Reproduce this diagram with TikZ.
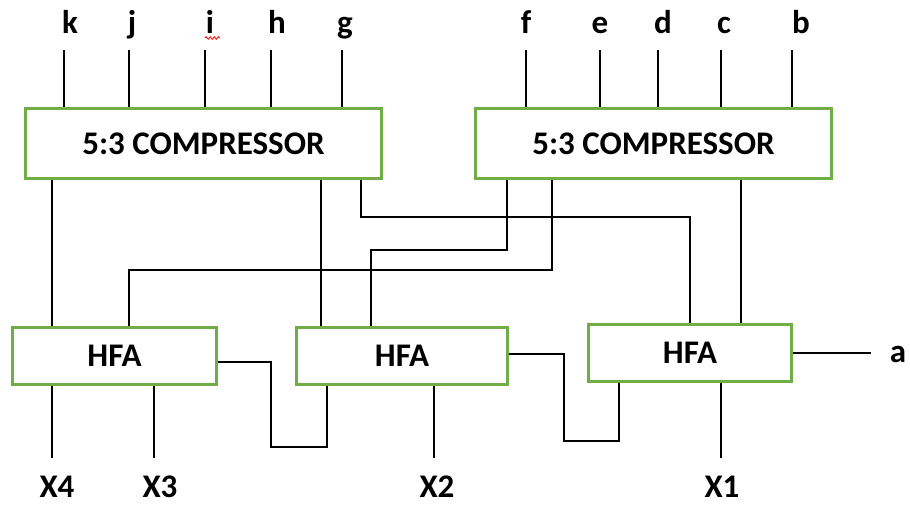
\documentclass[tikz,border=0pt]{standalone}
\usepackage{fontspec}
\setmainfont{Carlito}
\usetikzlibrary{decorations.pathmorphing}
\definecolor{boxgreen}{RGB}{112,173,71}
\begin{document}
\begin{tikzpicture}[x=1pt,y=-1pt,
  blk/.style={draw=boxgreen,line width=3pt,fill=white,inner sep=0pt,font=\fontsize{33}{36}\selectfont\bfseries},
  lbl/.style={font=\fontsize{33}{36}\selectfont\bfseries,inner sep=0pt,anchor=base},
  wire/.style={line width=2.8pt,line join=miter}]
\useasboundingbox (0,0) rectangle (910,504);
% blocks
\node[blk,minimum width=356pt,minimum height=70pt] (C1) at (203.5,143.5) {5:3 COMPRESSOR};
\node[blk,minimum width=356pt,minimum height=70pt] (C2) at (653.5,143.5) {5:3 COMPRESSOR};
\node[blk,minimum width=204pt,minimum height=57pt] (H1) at (114.5,356) {HFA};
\node[blk,minimum width=211pt,minimum height=57pt] (H2) at (402,356) {HFA};
\node[blk,minimum width=203pt,minimum height=57pt] (H3) at (690,353) {HFA};
% top labels
\node[lbl] (lk) at (70,33) {k};
\node[lbl] (lj) at (132,33) {j};
\node[lbl] (li) at (210,33) {i};
\node[lbl] (lh) at (277,33) {h};
\node[lbl] (lg) at (345,33) {g};
\node[lbl] (lf) at (526,33) {f};
\node[lbl] (le) at (600,33) {e};
\node[lbl] (ld) at (663,33) {d};
\node[lbl] (lc) at (724,33) {c};
\node[lbl] (lb) at (801,33) {b};
\draw[red,line width=0.8pt,decorate,decoration={snake,amplitude=1.3pt,segment length=4pt}] (205,38) -- (220,38);
% bottom labels
\node[lbl] (x4) at (57,497) {X4};
\node[lbl] (x3) at (160,497) {X3};
\node[lbl] (x2) at (437,497) {X2};
\node[lbl] (x1) at (722,497) {X1};
\node[lbl] (la) at (898,362) {a};
% pin coordinates
\foreach \n/\x in {k/64,j/129,i/205,h/271,g/342,f/526,e/600,d/658,c/721,b/792}
  \coordinate (t\n) at (\x,50);
\foreach \n/\x in {x4/52,x3/154,x2/434,x1/721}
  \coordinate (b\n) at (\x,458);
\coordinate (ea) at (871,353);
% input wires
\foreach \n in {k,j,i,h,g} \draw[wire] (t\n) -- (t\n |- C1.north);
\foreach \n in {f,e,d,c,b} \draw[wire] (t\n) -- (t\n |- C2.north);
% compressor outputs
\draw[wire] (C1.south -| 52,0) -- (H1.north -| 52,0);
\draw[wire] (C1.south -| 321,0) -- (H2.north -| 321,0);
\draw[wire] (C1.south -| 361,0) -- (361,217) -- (690,217) -- (H3.north -| 690,0);
\draw[wire] (C2.south -| 507,0) -- (507,250) -- (371,250) -- (H2.north -| 371,0);
\draw[wire] (C2.south -| 552,0) -- (552,270) -- (129,270) -- (H1.north -| 129,0);
\draw[wire] (C2.south -| 741,0) -- (H3.north -| 741,0);
% carries between HFAs
\draw[wire] (H1.east |- 0,362) -- (271,362) -- (271,447) -- (327,447) -- (H2.south -| 327,0);
\draw[wire] (H2.east |- 0,354) -- (564,354) -- (564,441) -- (619,441) -- (H3.south -| 619,0);
\draw[wire] (H3.east) -- (ea);
% outputs
\draw[wire] (H1.south -| bx4) -- (bx4);
\draw[wire] (H1.south -| bx3) -- (bx3);
\draw[wire] (H2.south -| bx2) -- (bx2);
\draw[wire] (H3.south -| bx1) -- (bx1);
\end{tikzpicture}
\end{document}
